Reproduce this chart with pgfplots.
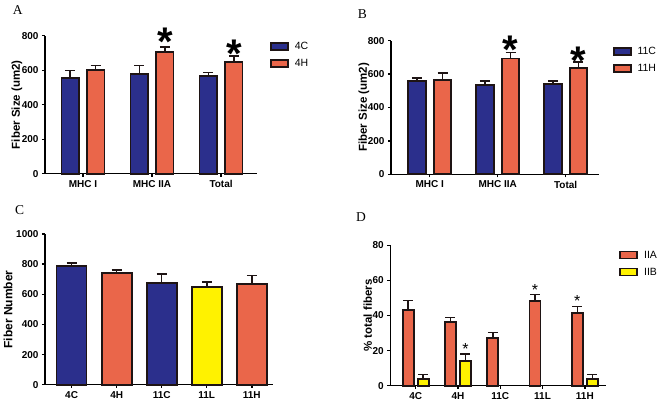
\documentclass[border=0pt]{standalone}
\usepackage{fontspec}
\setmainfont{Liberation Sans}
\newfontfamily\serifletter{Liberation Serif}
\usepackage{pgfplots}
\pgfplotsset{compat=1.18}
\definecolor{cblue}{RGB}{43,47,140}
\definecolor{corange}{RGB}{234,102,74}
\definecolor{cyellow}{RGB}{255,242,0}
\definecolor{cedge}{RGB}{30,20,20}
\pgfplotsset{
  panel/.style={
    scale only axis, anchor=south west, clip=false,
    axis x line=bottom, axis y line=left,
    axis line style={line width=1.4pt,-},
    every tick/.style={line width=1.4pt,black},
    tick align=outside, major tick length=3pt,
    xtick pos=bottom, ytick pos=left,
    /pgf/number format/assume math mode=true,
    /pgf/number format/1000 sep={},
    tick label style={font=\bfseries\fontsize{10}{10}\selectfont},
    ymin=0, enlargelimits=false, xtick=data,
    ybar, 
    legend cell align=left,
    legend image code/.code={\draw[##1,/tikz/draw=cedge,/tikz/line width=1.6pt] (0pt,-3.5pt) rectangle (17pt,3.5pt);},
    legend style={draw=none, fill=none, inner sep=0pt,
      font=\fontsize{10.5}{10.5}\selectfont,
      nodes={inner sep=0pt, text height=7pt, text depth=0pt},
      row sep=8.5pt,
      /tikz/every odd column/.append style={column sep=6pt}},
  },
  barst/.style={/tikz/draw=cedge, /tikz/line width=1.8pt, /tikz/fill=#1,
    error bars/y dir=plus, error bars/y explicit,
    error bars/error bar style={/tikz/line width=1.5pt,/tikz/draw=cedge},
    error bars/error mark options={rotate=90,/tikz/line width=1.5pt,/tikz/draw=cedge,mark size=5pt}},
}
\begin{document}
\begin{tikzpicture}
\useasboundingbox (0,0) rectangle (662pt,-406pt);
% Panel letters
\node[anchor=base west,inner sep=0pt,font=\serifletter\fontsize{13.5}{13.5}\selectfont] at (12.7pt,-15pt) {A};
\node[anchor=base west,inner sep=0pt,font=\serifletter\fontsize{13.5}{13.5}\selectfont] at (357.7pt,-18.3pt) {B};
\node[anchor=base west,inner sep=0pt,font=\serifletter\fontsize{13.5}{13.5}\selectfont] at (15pt,-214.7pt) {C};
\node[anchor=base west,inner sep=0pt,font=\serifletter\fontsize{13.5}{13.5}\selectfont] at (356pt,-221.3pt) {D};

% Panel A
\begin{axis}[panel, at={(45pt,-173.7pt)}, width=212pt, height=138pt,
  xmin=-0.55, xmax=2.52, ymax=800, ytick={0,200,400,600,800},
  xticklabels={MHC I,MHC IIA,Total},
  bar width=17.5pt,
  ylabel={Fiber Size (um2)},
  ylabel style={at={(axis description cs:-0.132,0.5)}, anchor=center, font=\bfseries\fontsize{11.5}{11.5}\selectfont},
  legend style={at={(rel axis cs:1,1)}, anchor=north west, xshift=13pt, yshift=-6pt}]
\addplot[barst=cblue, bar shift=-12.75pt] coordinates {(0,557) +- (0,42) (1,580) +- (0,48) (2,565) +- (0,23)};
\addplot[barst=corange, bar shift=12.75pt] coordinates {(0,601) +- (0,27) (1,704) +- (0,30) (2,648) +- (0,33)};
\legend{4C,4H}
\node[font=\bfseries\fontsize{40}{40}\selectfont, anchor=base, inner sep=0pt, yshift=-23pt] at ([xshift=12.75pt]axis cs:1,821) {*};
\node[font=\bfseries\fontsize{40}{40}\selectfont, anchor=base, inner sep=0pt, yshift=-23pt] at ([xshift=12.75pt]axis cs:2,750) {*};
\end{axis}

% Panel B
\begin{axis}[panel, at={(391pt,-174.3pt)}, width=208pt, height=133.6pt,
  xmin=-0.57, xmax=2.49, ymax=800, ytick={0,200,400,600,800},
  xticklabels={MHC I,MHC IIA,Total},
  bar width=17.5pt,
  ylabel={Fiber Size (um2)},
  ylabel style={at={(axis description cs:-0.13,0.5)}, anchor=center, font=\bfseries\fontsize{11.5}{11.5}\selectfont},
  legend style={at={(rel axis cs:1,1)}, anchor=north west, xshift=13.7pt, yshift=-6pt}]
\addplot[barst=cblue, bar shift=-12.8pt] coordinates {(0,559) +- (0,19) (1,535) +- (0,24) (2,541) +- (0,18)};
\addplot[barst=corange, bar shift=12.8pt] coordinates {(0,566) +- (0,42) (1,694) +- (0,36) (2,635) +- (0,36)};
\legend{11C,11H}
\node[font=\bfseries\fontsize{40}{40}\selectfont, anchor=base, inner sep=0pt, yshift=-23pt] at ([xshift=12.8pt]axis cs:1,799) {*};
\node[font=\bfseries\fontsize{40}{40}\selectfont, anchor=base, inner sep=0pt, yshift=-23pt] at ([xshift=12.8pt]axis cs:2,737) {*};
\end{axis}

% Panel C
\begin{axis}[panel, at={(45pt,-384.7pt)}, width=228pt, height=150.7pt,
  xmin=-0.59, xmax=4.47, ymax=1000, ytick={0,200,400,600,800,1000},
  xtick={0,1,2,3,4}, xticklabels={4C,4H,11C,11L,11H},
  bar width=30pt,
  ylabel={Fiber Number},
  ylabel style={at={(axis description cs:-0.162,0.5)}, anchor=center, font=\bfseries\fontsize{12}{12}\selectfont}]
\addplot[barst=cblue, bar shift=0pt] coordinates {(0,790) +- (0,18) (2,675) +- (0,60)};
\addplot[barst=corange, bar shift=0pt] coordinates {(1,743) +- (0,17) (4,670) +- (0,56)};
\addplot[barst=cyellow, bar shift=0pt] coordinates {(3,648) +- (0,35)};
\end{axis}

% Panel D
\begin{axis}[panel, at={(390.3pt,-385.7pt)}, width=215.7pt, height=140.4pt,
  xmin=-0.6, xmax=4.5, ymax=80, ytick={0,20,40,60,80},
  xtick={0,1,2,3,4}, xticklabels={4C,4H,11C,11L,11H},
  bar width=11pt,
  ylabel={\% total fibers},
  ylabel style={at={(axis description cs:-0.105,0.5)}, anchor=center, font=\bfseries\fontsize{11.5}{11.5}\selectfont},
  legend style={at={(rel axis cs:1,1)}, anchor=north west, xshift=13.3pt, yshift=-5pt}]
\addplot[barst=corange, bar shift=-7.5pt] coordinates {(0,43.3) +- (0,5.2) (1,36.3) +- (0,2.7) (2,27.2) +- (0,3.0) (3,48.3) +- (0,3.8) (4,41.4) +- (0,3.6)};
\addplot[barst=cyellow, bar shift=7.5pt] coordinates {(0,4.0) +- (0,2.3) (1,14.3) +- (0,3.7) (4,4.0) +- (0,2.3)};
\legend{IIA,IIB}
\node[font=\fontsize{16}{16}\selectfont, anchor=base, inner sep=0pt, yshift=-9.2pt] at ([xshift=7.5pt]axis cs:1,22.8) {*};
\node[font=\fontsize{16}{16}\selectfont, anchor=base, inner sep=0pt, yshift=-9.2pt] at ([xshift=-7.5pt]axis cs:3,56.8) {*};
\node[font=\fontsize{16}{16}\selectfont, anchor=base, inner sep=0pt, yshift=-9.2pt] at ([xshift=-7.5pt]axis cs:4,50.4) {*};
\end{axis}
\end{tikzpicture}
\end{document}
